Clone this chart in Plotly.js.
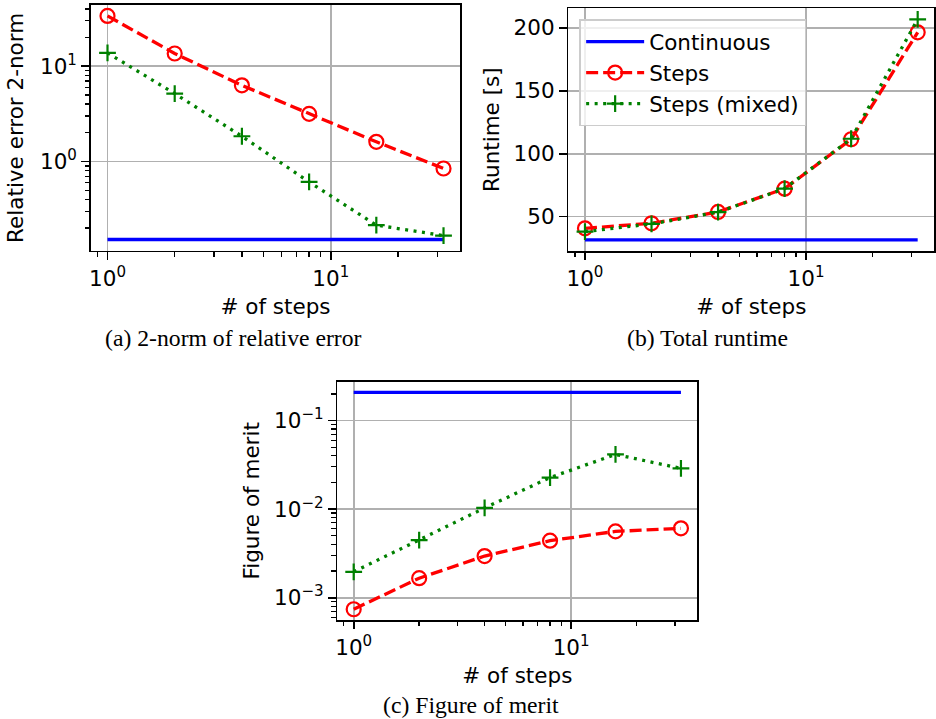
<!DOCTYPE html>
<html>
<head>
<meta charset="utf-8">
<script src="https://cdn.plot.ly/plotly-3.0.1.min.js"></script>
<style>html,body{margin:0;padding:0;background:#fff;}#chart{width:936px;height:719px;}</style>
</head>
<body>
<div id="chart"></div>
<script>
// ---- data ----
var steps = [1, 2, 4, 8, 16, 32];
var seriesNames = ['Continuous', 'Steps', 'Steps (mixed)'];

// (a) relative error 2-norm
var errContinuous = 0.152;
var errSteps = [33.7, 13.6, 6.3, 3.16, 1.61, 0.845];
var errMixed = [13.8, 5.16, 1.84, 0.61, 0.215, 0.167];

// (b) runtime [s]
var rtContinuous = 31.5;
var rtSteps = [40.7, 44.7, 53.7, 72.2, 111.4, 196.3];
var rtMixed = [38.1, 44.2, 53.5, 72.2, 111.8, 206.6];

// (c) figure of merit
var fomContinuous = 0.208;
var fomSteps = [0.00074, 0.00166, 0.00295, 0.0044, 0.0056, 0.00607];
var fomMixed = [0.00196, 0.00446, 0.0103, 0.0227, 0.0414, 0.0288];

var xTickVals = [1, 10];
var xTickText = ['10<sup>0</sup>', '10<sup>1</sup>'];
var errTickVals = [1, 10];
var errTickText = ['10<sup>0</sup>', '10<sup>1</sup>'];
var rtTickVals = [50, 100, 150, 200];
var fomTickVals = [0.001, 0.01, 0.1];
var fomTickText = ['10<sup>\u22123</sup>', '10<sup>\u22122</sup>', '10<sup>\u22121</sup>'];

var captions = ['(a) 2-norm of relative error', '(b) Total runtime', '(c) Figure of merit'];

// ---- styling ----
var FS = 21.5;
var FONT = 'DejaVu Sans, sans-serif';
var LW = 3.3;

function tracesFor(xa, ya, cont, st, mx, legend) {
  return [
    {x: [steps[0], steps[steps.length - 1]], y: [cont, cont], xaxis: xa, yaxis: ya,
     mode: 'lines', name: seriesNames[0], showlegend: legend,
     line: {color: '#0000ff', width: LW}},
    {x: steps, y: st, xaxis: xa, yaxis: ya, mode: 'lines+markers', name: seriesNames[1], showlegend: legend,
     line: {color: '#ff0000', width: LW, dash: '12px,5px'},
     marker: {symbol: 'circle-open', size: 14, color: '#ff0000', line: {width: 2.2, color: '#ff0000'}}},
    {x: steps, y: mx, xaxis: xa, yaxis: ya, mode: 'lines+markers', name: seriesNames[2], showlegend: legend,
     line: {color: '#008000', width: LW, dash: '3px,5.5px'},
     marker: {symbol: 'cross-thin-open', size: 12, color: '#008000', line: {width: 2.2, color: '#008000'}}}
  ];
}

var data = []
  .concat(tracesFor('x', 'y', errContinuous, errSteps, errMixed, false))
  .concat(tracesFor('x2', 'y2', rtContinuous, rtSteps, rtMixed, true))
  .concat(tracesFor('x3', 'y3', fomContinuous, fomSteps, fomMixed, false));

function baseAxis(extra) {
  var a = {
    showline: true, linecolor: '#000', linewidth: 1.76, mirror: true,
    ticks: 'outside', ticklen: 7.7, tickwidth: 1.76, tickcolor: '#000',
    showgrid: true, gridcolor: '#b0b0b0', gridwidth: 1.76,
    zeroline: false, automargin: false,
    tickfont: {family: FONT, size: FS, color: '#000'},
    title: {font: {family: FONT, size: FS, color: '#000'}}
  };
  for (var k in extra) a[k] = extra[k];
  return a;
}
var logMinor = {ticks: 'outside', ticklen: 4.4, tickwidth: 1.32, tickcolor: '#000', dtick: 'D1', showgrid: false};
var xRange = [-0.07526, 1.58041];

function xAxis(domain, anchor) {
  return baseAxis({domain: domain, anchor: anchor, type: 'log', range: xRange,
    tickmode: 'array', tickvals: xTickVals, ticktext: xTickText, minor: logMinor,
    title: {text: '# of steps', standoff: 9, font: {family: FONT, size: FS, color: '#000'}}});
}

var layout = {
  width: 936, height: 719,
  margin: {l: 0, r: 0, t: 0, b: 0},
  paper_bgcolor: '#fff', plot_bgcolor: '#fff',
  font: {family: FONT, size: FS, color: '#000'},
  xaxis: xAxis([0.0969, 0.4918], 'y'),
  yaxis: baseAxis({domain: [0.6513, 0.9930], anchor: 'x', type: 'log', range: [-0.936, 1.642],
    tickmode: 'array', tickvals: errTickVals, ticktext: errTickText, minor: logMinor,
    title: {text: 'Relative error 2-norm', standoff: 10, font: {family: FONT, size: FS, color: '#000'}}}),
  xaxis2: xAxis([0.6072, 0.9982], 'y2'),
  yaxis2: baseAxis({domain: [0.6509, 0.9885], anchor: 'x2', type: 'linear', range: [22.7, 215.4],
    tickmode: 'array', tickvals: rtTickVals,
    title: {text: 'Runtime [s]', standoff: 8, font: {family: FONT, size: FS, color: '#000'}}}),
  xaxis3: xAxis([0.3604, 0.7450], 'y3'),
  yaxis3: baseAxis({domain: [0.1377, 0.4691], anchor: 'x3', type: 'log', range: [-3.252, -0.562],
    tickmode: 'array', tickvals: fomTickVals, ticktext: fomTickText, minor: logMinor,
    title: {text: 'Figure of merit', standoff: 8, font: {family: FONT, size: FS, color: '#000'}}}),
  legend: {x: 0.619, y: 0.973, xanchor: 'left', yanchor: 'top',
    bgcolor: 'rgba(255,255,255,0.8)', bordercolor: '#cccccc', borderwidth: 1.76,
    font: {family: FONT, size: FS, color: '#000'}, itemwidth: 58, tracegroupgap: 0},
  showlegend: true,
  annotations: [
    {text: captions[0], xref: 'paper', yref: 'paper', x: 233.3 / 936, y: 1 - 338 / 719,
     xanchor: 'center', yanchor: 'middle', showarrow: false,
     font: {family: 'Liberation Serif, Times New Roman, serif', size: 23.7, color: '#000'}},
    {text: captions[1], xref: 'paper', yref: 'paper', x: 707.5 / 936, y: 1 - 338 / 719,
     xanchor: 'center', yanchor: 'middle', showarrow: false,
     font: {family: 'Liberation Serif, Times New Roman, serif', size: 23.7, color: '#000'}},
    {text: captions[2], xref: 'paper', yref: 'paper', x: 470.8 / 936, y: 1 - 705 / 719,
     xanchor: 'center', yanchor: 'middle', showarrow: false,
     font: {family: 'Liberation Serif, Times New Roman, serif', size: 23.7, color: '#000'}}
  ]
};

Plotly.newPlot('chart', data, layout, {staticPlot: true, displayModeBar: false});
</script>
</body>
</html>
